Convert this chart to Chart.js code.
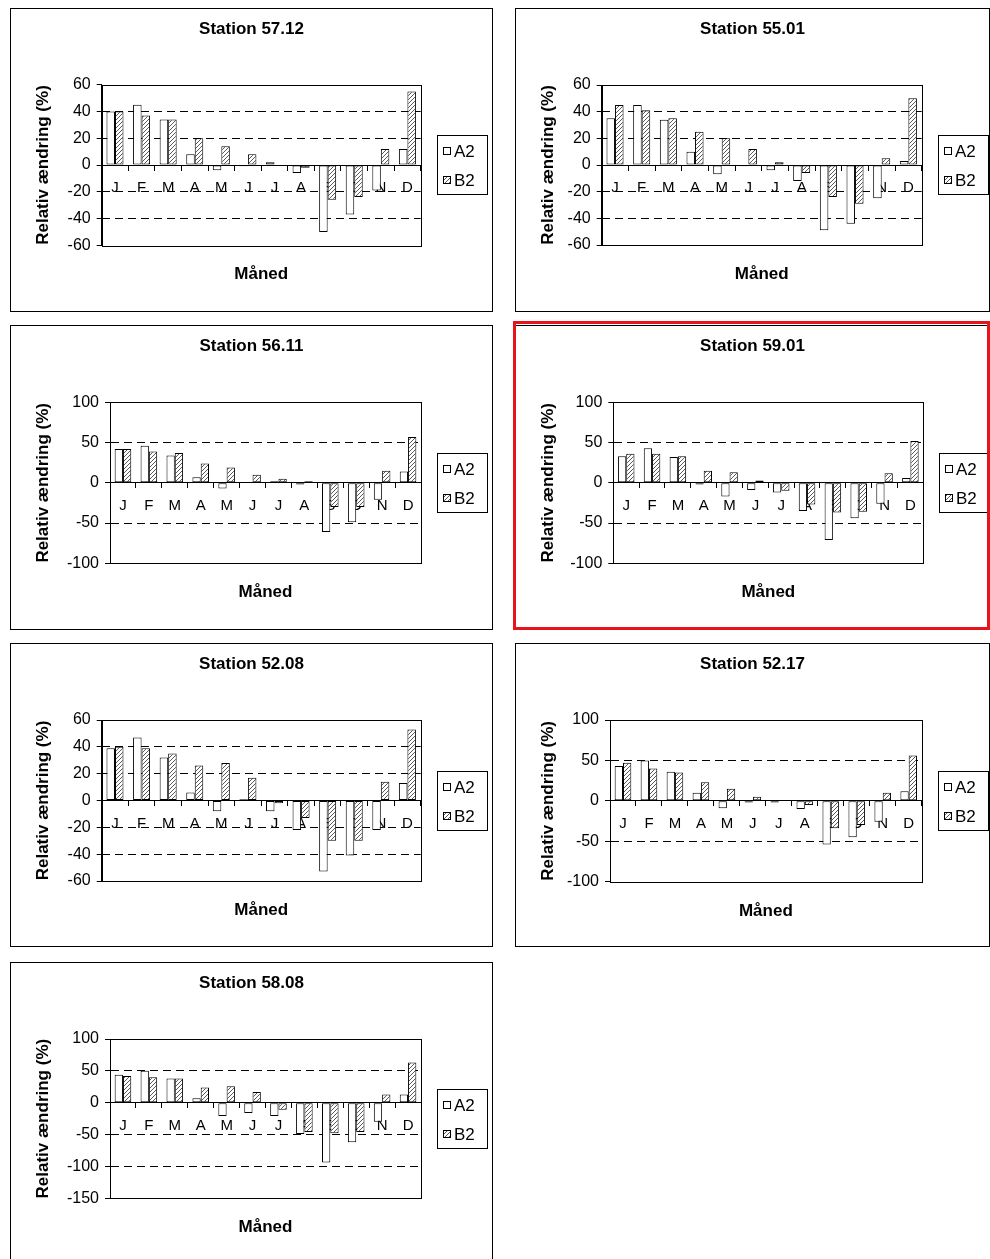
<!DOCTYPE html>
<html>
<head>
<meta charset="utf-8">
<script src="https://cdn.jsdelivr.net/npm/chart.js@4.4.0/dist/chart.umd.min.js"></script>
<style>
  body { margin: 0; background: #fff; width: 990px; height: 1259px; overflow: hidden; position: relative; }
  .panel { position: absolute; border: 1px solid #000; box-sizing: border-box; background: #fff; }
  .panel canvas { display: block; }
  .highlight { position: absolute; border: 3px solid #e8141b; box-sizing: border-box; z-index: 5; }
</style>
</head>
<body>
<script>
// Data
const months = ['J', 'F', 'M', 'A', 'M', 'J', 'J', 'A', 'S', 'O', 'N', 'D'];
const seriesNames = ['A2', 'B2'];
const stations = ['Station 57.12', 'Station 55.01', 'Station 56.11', 'Station 59.01',
                  'Station 52.08', 'Station 52.17', 'Station 58.08'];

const a2_5712 = [40, 45, 34, 8, -4, -1, 2, -6, -50, -37, -19, 12];
const b2_5712 = [40, 37, 34, 20, 14, 8, 0, -2, -26, -24, 12, 55];

const a2_5501 = [35, 45, 34, 10, -7, -1, -4, -12, -49, -44, -25, 3];
const b2_5501 = [45, 41, 35, 25, 20, 12, 2, -6, -24, -29, 5, 50];

const a2_5611 = [42, 46, 34, 7, -7, 1, 2, -2, -61, -49, -21, 14];
const b2_5611 = [42, 39, 37, 24, 19, 10, 5, 2, -30, -30, 15, 57];

const a2_5901 = [33, 43, 32, -2, -17, -9, -12, -35, -71, -44, -26, 6];
const b2_5901 = [36, 36, 33, 15, 13, 3, -10, -27, -37, -36, 12, 52];

const a2_5208 = [39, 47, 32, 6, -8, 1, -8, -22, -53, -41, -22, 13];
const b2_5208 = [40, 39, 35, 26, 28, 17, -2, -13, -30, -30, 14, 53];

const a2_5217 = [43, 50, 36, 10, -9, -2, -2, -10, -54, -45, -26, 12];
const b2_5217 = [47, 40, 35, 23, 15, 5, 0, -5, -34, -30, 10, 56];

const a2_5808 = [44, 50, 38, 7, -21, -16, -21, -49, -94, -62, -30, 13];
const b2_5808 = [42, 40, 38, 24, 26, 17, -11, -46, -48, -46, 13, 63];

// y-axis tick labels
const ticks60 = [-60, -40, -20, 0, 20, 40, 60];
const ticks100 = [-100, -50, 0, 50, 100];
const ticks150 = [-150, -100, -50, 0, 50, 100];

const yTitle = 'Relativ ændring (%)';
const xTitle = 'Måned';

const panelSeries = [
  [a2_5712, b2_5712, ticks60],
  [a2_5501, b2_5501, ticks60],
  [a2_5611, b2_5611, ticks100],
  [a2_5901, b2_5901, ticks100],
  [a2_5208, b2_5208, ticks60],
  [a2_5217, b2_5217, ticks100],
  [a2_5808, b2_5808, ticks150]
];

// panel frame [x, y, w, h] and plot area [left, top, right, bottom], page pixels
const frames = [
  { box: [10, 8, 483, 304],   area: [101.7, 84.7, 420.7, 245.3] },
  { box: [515, 8, 475, 304],  area: [601.7, 85, 921.7, 245] },
  { box: [10, 325, 483, 305], area: [110, 402.3, 421, 563.3] },
  { box: [515, 325, 475, 305], area: [613.3, 402.3, 923.3, 563.3] },
  { box: [10, 643, 483, 304], area: [101.7, 720, 420.7, 881] },
  { box: [515, 643, 475, 304], area: [610, 720, 921.7, 881.7] },
  { box: [10, 962, 483, 304], area: [110, 1039, 421, 1198.3] }
];
const highlighted = 3;

Chart.defaults.font.family = "'Liberation Sans', Arial, sans-serif";
Chart.defaults.color = '#000';

function makeHatch() {
  const c = document.createElement('canvas');
  c.width = 4; c.height = 4;
  const g = c.getContext('2d');
  g.fillStyle = '#fff';
  g.fillRect(0, 0, 4, 4);
  g.strokeStyle = '#5a5a5a';
  g.lineWidth = 1;
  g.beginPath();
  g.moveTo(0, 4); g.lineTo(4, 0);
  g.moveTo(-1, 1); g.lineTo(1, -1);
  g.moveTo(3, 5); g.lineTo(5, 3);
  g.stroke();
  return g.createPattern(c, 'repeat');
}
const hatch = makeHatch();

// solid frame around the plot area
const plotFrame = {
  id: 'plotFrame',
  afterDatasetsDraw(chart) {
    const { ctx, chartArea: a } = chart;
    ctx.save();
    ctx.strokeStyle = '#000';
    ctx.lineWidth = 1;
    ctx.strokeRect(Math.round(a.left) + 0.5, Math.round(a.top) + 0.5,
                   Math.round(a.right - a.left), Math.round(a.bottom - a.top));
    ctx.restore();
  }
};

// boxed legend to the right of the plot
const boxLegend = {
  id: 'boxLegend',
  afterDraw(chart) {
    const { ctx, chartArea: a } = chart;
    const left = Math.round(a.right + 16), w = 50, h = 59;
    const top = Math.round((a.top + a.bottom) / 2 - 30);
    ctx.save();
    ctx.strokeStyle = '#000';
    ctx.lineWidth = 1;
    ctx.strokeRect(left + 0.5, top + 0.5, w, h);
    ctx.font = "17px 'Liberation Sans', Arial, sans-serif";
    ctx.textBaseline = 'middle';
    chart.data.datasets.forEach((ds, i) => {
      const cy = Math.round(top + 16 + i * 29);
      ctx.fillStyle = ds.backgroundColor;
      ctx.fillRect(left + 6, cy - 4, 8, 8);
      ctx.strokeRect(left + 6.5, cy - 3.5, 7, 7);
      ctx.fillStyle = '#000';
      ctx.fillText(ds.label, left + 17, cy + 1);
    });
    ctx.restore();
  }
};

frames.forEach((f, i) => {
  const [bx, by, bw, bh] = f.box;
  const [al, at, ar, ab] = f.area;
  const [a2, b2, ticks] = panelSeries[i];
  const yMin = ticks[0], yMax = ticks[ticks.length - 1];

  const div = document.createElement('div');
  div.className = 'panel';
  div.style.left = bx + 'px';
  div.style.top = by + 'px';
  div.style.width = bw + 'px';
  div.style.height = bh + 'px';
  const canvas = document.createElement('canvas');
  const W = bw - 2, H = bh - 2;
  canvas.width = W;
  canvas.height = H;
  div.appendChild(canvas);
  document.body.appendChild(div);

  const ox = bx + 1, oy = by + 1;
  const padX = 10;
  const lh = 17 * 1.2;
  const yAxisW = al - ox - padX;
  const rightW = ox + W - padX - ar;
  const titleMid = 20.7;
  const xTitleGap = 29.4;

  new Chart(canvas, {
    type: 'bar',
    data: {
      labels: months,
      datasets: [
        { label: seriesNames[0], data: a2, backgroundColor: '#fff', borderColor: '#000',
          borderWidth: 1, borderSkipped: false, inflateAmount: 0,
          categoryPercentage: 0.64, barPercentage: 1 },
        { label: seriesNames[1], data: b2, backgroundColor: hatch, borderColor: '#000',
          borderWidth: 1, borderSkipped: false, inflateAmount: 0,
          categoryPercentage: 0.64, barPercentage: 1 }
      ]
    },
    options: {
      responsive: false,
      animation: false,
      devicePixelRatio: 1,
      layout: { padding: { left: padX, right: padX, top: 0, bottom: 0 } },
      scales: {
        x: {
          position: { y: 0 },
          z: 1,
          grid: { display: true, drawOnChartArea: false, drawTicks: true, tickLength: 5, color: '#000', offset: true },
          border: { display: true, color: '#000', width: 1 },
          ticks: { font: { size: 15 }, color: '#000', padding: 9, maxRotation: 0, autoSkip: false }
        },
        y: {
          min: yMin,
          max: yMax,
          ticks: { stepSize: ticks[1] - ticks[0], font: { size: 16 }, color: '#000', padding: 6 },
          grid: {
            color: (c) => (c.tick && (c.tick.value === yMin || c.tick.value === yMax)) ? 'rgba(0,0,0,0)' : '#000',
            lineWidth: 1, tickLength: 5, tickColor: '#000', tickBorderDash: []
          },
          border: { display: true, color: '#000', width: 1, dash: [8, 5] },
          title: { display: true, text: yTitle, font: { size: 17, weight: 'bold' }, color: '#000',
                   padding: { top: 32 - padX - lh / 2, bottom: 0 } },
          afterFit(scale) { scale.width = yAxisW; }
        },
        y2: {
          position: 'right',
          display: true,
          grid: { display: false },
          border: { display: false },
          ticks: { display: false },
          afterFit(scale) { scale.width = rightW; }
        }
      },
      plugins: {
        legend: { display: false },
        tooltip: { enabled: false },
        title: {
          display: true, text: stations[i], fullSize: true, color: '#000',
          font: { size: 17, weight: 'bold' },
          padding: { top: titleMid - lh / 2, bottom: (at - oy) - titleMid - lh / 2 }
        },
        subtitle: {
          display: true, text: xTitle, position: 'bottom', fullSize: false, color: '#000',
          font: { size: 17, weight: 'bold' },
          padding: { top: xTitleGap - lh / 2, bottom: H - (ab - oy) - xTitleGap - lh / 2 }
        }
      }
    },
    plugins: [plotFrame, boxLegend]
  });

  if (i === highlighted) {
    const mark = document.createElement('div');
    mark.className = 'highlight';
    mark.style.left = '513px';
    mark.style.top = '321px';
    mark.style.width = '477px';
    mark.style.height = '309px';
    document.body.appendChild(mark);
  }
});
</script>
</body>
</html>
